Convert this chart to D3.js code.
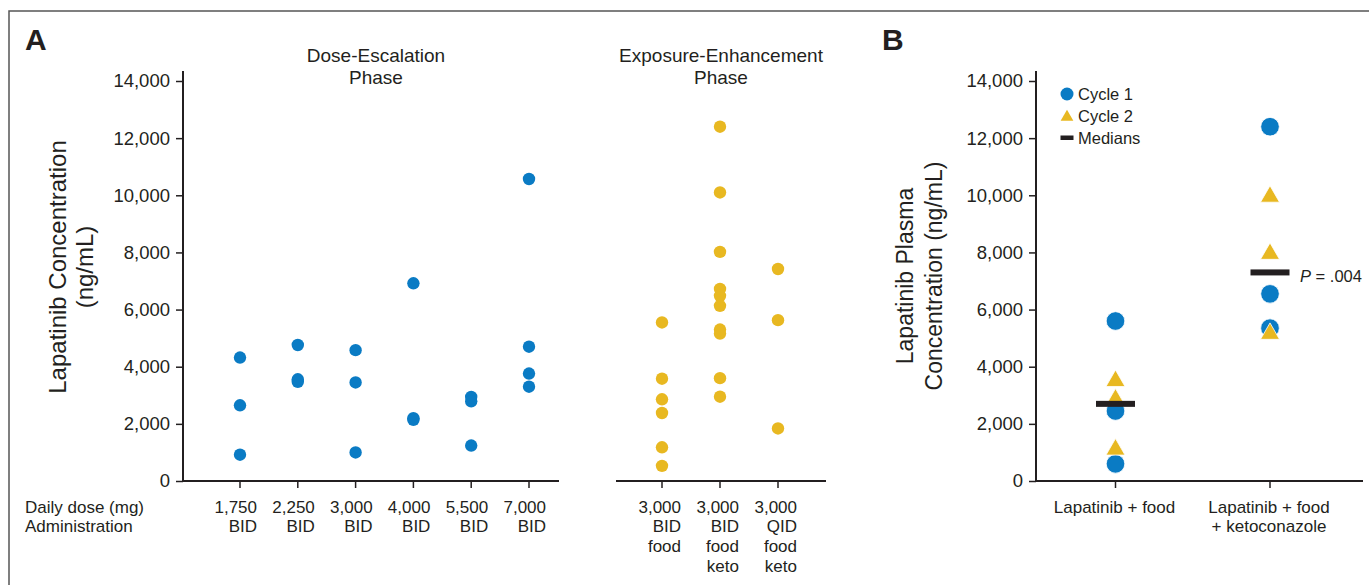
<!DOCTYPE html>
<html>
<head>
<meta charset="utf-8">
<script src="https://cdn.jsdelivr.net/npm/d3@7/dist/d3.min.js"></script>
<style>
  body { margin: 0; background: #fff; }
  svg text { font-family: "Liberation Sans", Arial, sans-serif; fill: #231f20; }
</style>
</head>
<body>
<div id="chart"></div>
<script>
// panel A - dose escalation phase
var doseLabels = [["1,750", "BID"], ["2,250", "BID"], ["3,000", "BID"], ["4,000", "BID"], ["5,500", "BID"], ["7,000", "BID"]];
var doseValues = [
    [4320, 2650, 920],
    [4760, 3560, 3470],
    [4580, 3450, 1000],
    [6920, 2200, 2140],
    [2940, 2790, 1240],
    [10570, 4700, 3760, 3300]
];
// panel A - exposure enhancement phase
var foodLabels = [["3,000", "BID", "food"], ["3,000", "BID", "food", "keto"], ["3,000", "QID", "food", "keto"]];
var foodValues = [
    [5550, 3580, 2860, 2380, 1180, 530],
    [12400, 10100, 8020, 6720, 6480, 6130, 5300, 5160, 3600, 2950],
    [7420, 5630, 1840]
];
// panel B
var groupLabels = [["Lapatinib + food"], ["Lapatinib + food", "+ ketoconazole"]];
var cycle1 = [[5600, 2450, 600], [12400, 6550, 5350]];
var cycle2 = [[3500, 2850, 1100], [9950, 7950, 5150]];
var medians = [2700, 7300];
var yTicks = [0, 2000, 4000, 6000, 8000, 10000, 12000, 14000];

var blue = "#0a7bc4", yellow = "#e8b821", ink = "#231f20";

var svg = d3.select("#chart").append("svg")
    .attr("width", 1369).attr("height", 585);

// frame
svg.append("path")
    .attr("d", "M9,585 L9,11 L1369,11")
    .attr("fill", "none").attr("stroke", "#555").attr("stroke-width", 1.5);

var y = d3.scaleLinear().domain([0, 14000]).range([481, 81]);

function yAxis(g, x0) {
    var ax = g.append("g").attr("transform", "translate(" + x0 + ",0)")
        .call(d3.axisLeft(y).tickValues(yTicks).tickFormat(d3.format(",")).tickSize(7).tickPadding(6));
    ax.select(".domain").remove();
    ax.selectAll("line").attr("stroke", ink).attr("stroke-width", 1.5);
    ax.selectAll("text").attr("font-size", 18.5).style("fill", ink);
    g.append("line").attr("x1", x0).attr("x2", x0).attr("y1", y(0)).attr("y2", y(14000) - 10)
        .attr("stroke", ink).attr("stroke-width", 2);
}

function xBase(g, x1, x2, xs, labels, anchor, dx) {
    g.append("line").attr("x1", x1).attr("x2", x2).attr("y1", y(0)).attr("y2", y(0))
        .attr("stroke", ink).attr("stroke-width", 2);
    labels.forEach(function (lines, i) {
        var cx = xs(i);
        g.append("line").attr("x1", cx).attr("x2", cx).attr("y1", y(0)).attr("y2", y(0) + 7)
            .attr("stroke", ink).attr("stroke-width", 1.5);
        var t = g.append("text").attr("text-anchor", anchor).attr("font-size", 17);
        lines.forEach(function (s, j) {
            t.append("tspan").attr("x", cx + dx).attr("y", 512.5 + j * 19.7).text(s);
        });
    });
}

// ---------- Panel A ----------
var gA = svg.append("g");
gA.append("text").attr("x", 25).attr("y", 50).attr("font-size", 30).attr("font-weight", "bold").text("A");
yAxis(gA, 183);

var xDose = d3.scalePoint().domain(d3.range(doseLabels.length)).range([240, 529]);
var xFood = d3.scalePoint().domain(d3.range(foodLabels.length)).range([662, 778]);

xBase(gA, 183, 559, xDose, doseLabels, "end", 17);
xBase(gA, 616, 826, xFood, foodLabels, "end", 19);

gA.append("text").attr("x", 25).attr("y", 512.5).attr("font-size", 17).text("Daily dose (mg)");
gA.append("text").attr("x", 25).attr("y", 532.2).attr("font-size", 17).text("Administration");

[["Dose-Escalation", 376], ["Exposure-Enhancement", 721]].forEach(function (p) {
    var t = gA.append("text").attr("text-anchor", "middle").attr("font-size", 19);
    t.append("tspan").attr("x", p[1]).attr("y", 61.5).text(p[0]);
    t.append("tspan").attr("x", p[1]).attr("y", 84).text("Phase");
});

var yl = gA.append("text").attr("text-anchor", "middle").attr("font-size", 24)
    .attr("transform", "translate(0,267) rotate(-90)");
yl.append("tspan").attr("x", 0).attr("y", 66).text("Lapatinib Concentration");
yl.append("tspan").attr("x", 0).attr("y", 93).text("(ng/mL)");

doseValues.forEach(function (vals, i) {
    gA.selectAll(null).data(vals).enter().append("circle")
        .attr("cx", xDose(i)).attr("cy", function (d) { return y(d); })
        .attr("r", 6.2).attr("fill", blue);
});
foodValues.forEach(function (vals, i) {
    gA.selectAll(null).data(vals).enter().append("circle")
        .attr("cx", xFood(i)).attr("cy", function (d) { return y(d); })
        .attr("r", 6.2).attr("fill", yellow);
});

// ---------- Panel B ----------
var gB = svg.append("g");
gB.append("text").attr("x", 882).attr("y", 50).attr("font-size", 30).attr("font-weight", "bold").text("B");
yAxis(gB, 1036);

var xGrp = d3.scalePoint().domain(d3.range(groupLabels.length)).range([1115.5, 1270]);
gB.append("line").attr("x1", 1036).attr("x2", 1363).attr("y1", y(0)).attr("y2", y(0))
    .attr("stroke", ink).attr("stroke-width", 2);
groupLabels.forEach(function (lines, i) {
    var cx = xGrp(i);
    gB.append("line").attr("x1", cx).attr("x2", cx).attr("y1", y(0)).attr("y2", y(0) + 7)
        .attr("stroke", ink).attr("stroke-width", 1.5);
    var t = gB.append("text").attr("text-anchor", "middle").attr("font-size", 17);
    lines.forEach(function (s, j) {
        t.append("tspan").attr("x", cx - 1).attr("y", 512.5 + j * 19.7).text(s);
    });
});

var ylB = gB.append("text").attr("text-anchor", "middle").attr("font-size", 23)
    .attr("transform", "translate(0,276) rotate(-90)");
ylB.append("tspan").attr("x", 0).attr("y", 913).text("Lapatinib Plasma");
ylB.append("tspan").attr("x", 0).attr("y", 942).text("Concentration (ng/mL)");

var tri = d3.symbol().type(d3.symbolTriangle);

cycle1.forEach(function (vals, i) {
    gB.selectAll(null).data(vals).enter().append("circle")
        .attr("cx", xGrp(i)).attr("cy", function (d) { return y(d); })
        .attr("r", 9.3).attr("fill", blue).attr("stroke", "#fff").attr("stroke-width", 0.8);
});
cycle2.forEach(function (vals, i) {
    gB.selectAll(null).data(vals).enter().append("path")
        .attr("d", tri.size(156)())
        .attr("transform", function (d) { return "translate(" + xGrp(i) + "," + y(d) + ")"; })
        .attr("fill", yellow).attr("stroke", "#fff").attr("stroke-width", 0.8);
});
gB.selectAll(null).data(medians).enter().append("rect")
    .attr("x", function (d, i) { return xGrp(i) - 19.5; })
    .attr("y", function (d) { return y(d) - 3; })
    .attr("width", 39).attr("height", 6).attr("fill", ink);

var pt = gB.append("text").attr("x", 1300).attr("y", 282).attr("font-size", 16.5);
pt.append("tspan").attr("font-style", "italic").text("P");
pt.append("tspan").text(" = .004");

// legend
var lg = gB.append("g").attr("transform", "translate(1067,0)");
lg.append("circle").attr("cx", 0).attr("cy", 94).attr("r", 6.5).attr("fill", blue);
lg.append("path").attr("d", tri.size(70)()).attr("transform", "translate(0,117)").attr("fill", yellow);
lg.append("rect").attr("x", -6.5).attr("y", 135.5).attr("width", 13).attr("height", 4.5).attr("fill", ink);
[["Cycle 1", 94], ["Cycle 2", 116], ["Medians", 137.5]].forEach(function (l) {
    lg.append("text").attr("x", 11).attr("y", l[1] + 6).attr("font-size", 16.5).text(l[0]);
});
</script>
</body>
</html>
